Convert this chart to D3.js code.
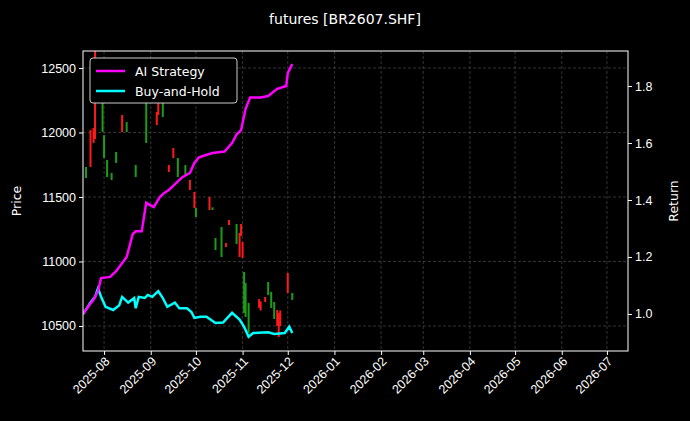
<!DOCTYPE html><html><head><meta charset="utf-8"><script src="https://cdn.jsdelivr.net/npm/d3@7"></script>
<style>body{margin:0;background:#000}svg{font-family:"DejaVu Sans",sans-serif}</style></head><body><svg id="c" width="690" height="421"></svg><script>
const title="futures [BR2607.SHF]";
const priceTicks=[10500,11000,11500,12000,12500];
const returnTicks=[1.0,1.2,1.4,1.6,1.8];
const monthTicks=["2025-08","2025-09","2025-10","2025-11","2025-12","2026-01","2026-02","2026-03","2026-04","2026-05","2026-06","2026-07"];
const candleDates=["2025-07-20","2025-07-23","2025-07-25","2025-07-26","2025-07-31","2025-08-01","2025-08-03","2025-08-06","2025-08-09","2025-08-13","2025-08-16","2025-08-22","2025-08-29","2025-09-05","2025-09-06","2025-09-09","2025-09-13","2025-09-16","2025-09-19","2025-09-24","2025-09-27","2025-09-30","2025-10-01","2025-10-10","2025-10-12","2025-10-14","2025-10-18","2025-10-21","2025-10-23","2025-10-28","2025-10-30","2025-10-31","2025-11-01","2025-11-02","2025-11-03","2025-11-05","2025-11-12","2025-11-13","2025-11-16","2025-11-18","2025-11-20","2025-11-22","2025-11-24","2025-11-25","2025-11-26","2025-12-01","2025-12-04"];
const candleHigh=[11733,12019,12035,12700,12252,11980,11787,11686,11849,12136,12081,11748,12252,12159,12229,12229,11748,11880,11802,11748,11632,11539,11415,11500,11420,11182,11267,11143,11322,11291,11221,11291,11151,10919,10834,10678,10709,10690,10725,10841,10764,10686,10624,10600,10620,10911,10756];
const candleLow=[11647,11733,11919,11950,12004,11802,11655,11632,11764,12004,12004,11655,11919,12058,12136,12120,11694,11802,11655,11671,11554,11415,11345,11399,11399,11089,11035,11112,11283,11136,11035,11198,11027,10601,10570,10446,10640,10620,10686,10740,10640,10554,10500,10415,10500,10756,10702];
const candleUp=[0,1,1,1,0,0,0,0,0,1,0,0,0,1,1,0,1,1,0,0,1,1,0,1,0,0,0,1,1,0,1,1,1,0,0,0,1,1,1,0,0,0,1,1,1,1,0];
const aiDates=["2025-07-18","2025-07-22","2025-07-25","2025-07-28","2025-07-30","2025-08-05","2025-08-09","2025-08-16","2025-08-20","2025-08-22","2025-08-26","2025-08-29","2025-09-03","2025-09-07","2025-09-10","2025-09-13","2025-09-18","2025-09-22","2025-09-27","2025-09-30","2025-10-03","2025-10-12","2025-10-20","2025-10-25","2025-10-28","2025-10-31","2025-11-03","2025-11-06","2025-11-13","2025-11-18","2025-11-24","2025-11-30","2025-12-01","2025-12-04"];
const aiValues=[1.0,1.03,1.05,1.08,1.126,1.13,1.15,1.20,1.28,1.29,1.29,1.39,1.375,1.41,1.425,1.435,1.46,1.48,1.495,1.53,1.55,1.565,1.57,1.60,1.63,1.645,1.72,1.76,1.76,1.765,1.79,1.80,1.845,1.877];
const bhDates=["2025-07-18","2025-07-23","2025-07-26","2025-07-28","2025-07-30","2025-08-02","2025-08-07","2025-08-11","2025-08-13","2025-08-17","2025-08-21","2025-08-22","2025-08-24","2025-08-28","2025-08-30","2025-09-02","2025-09-06","2025-09-09","2025-09-12","2025-09-17","2025-09-20","2025-09-25","2025-09-28","2025-09-30","2025-10-04","2025-10-08","2025-10-14","2025-10-19","2025-10-25","2025-10-30","2025-11-02","2025-11-05","2025-11-08","2025-11-18","2025-11-22","2025-11-29","2025-12-02","2025-12-04"];
const bhValues=[1.0,1.04,1.06,1.09,1.06,1.025,1.014,1.03,1.06,1.04,1.056,1.02,1.06,1.056,1.067,1.06,1.08,1.056,1.025,1.04,1.02,1.02,1.007,0.986,0.99,0.99,0.968,0.97,1.004,0.98,0.955,0.92,0.933,0.936,0.93,0.933,0.955,0.933];

const P=d3.timeParse("%Y-%m-%d"),M=d3.timeParse("%Y-%m");
const L=83,R=628,T=51,B=351;
const svg=d3.select("#c");
svg.append("rect").attr("width",690).attr("height",421).attr("fill","#000");
const x=d3.scaleTime().domain([P("2025-07-18"),P("2026-07-15")]).range([L,R]);
const yP=d3.scaleLinear().domain([10306,12632]).range([B,T]);
const yR=d3.scaleLinear().domain([0.870,1.923]).range([B,T]);
svg.append("defs").append("clipPath").attr("id","cp").append("rect").attr("x",L).attr("y",T).attr("width",R-L).attr("height",B-T);
const g=svg.append("g");
const mt=monthTicks.map(M);
g.selectAll(".vg").data(mt).join("line").attr("x1",d=>x(d)).attr("x2",d=>x(d)).attr("y1",T).attr("y2",B).attr("stroke","#555").attr("stroke-dasharray","3,2").attr("stroke-width",0.6);
g.selectAll(".hg").data(priceTicks).join("line").attr("x1",L).attr("x2",R).attr("y1",d=>yP(d)).attr("y2",d=>yP(d)).attr("stroke","#555").attr("stroke-dasharray","3,2").attr("stroke-width",0.6);
const cg=svg.append("g").attr("clip-path","url(#cp)");
candleDates.forEach((d,i)=>{
  const c=candleUp[i]?"#ff1a1a":"#1a9e1a";
  cg.append("rect").attr("x",x(P(d))-1).attr("width",2).attr("y",yP(candleHigh[i])).attr("height",yP(candleLow[i])-yP(candleHigh[i])).attr("fill",c);
});
const line=d3.line().x(d=>x(P(d[0]))).y(d=>yR(d[1]));
cg.append("path").datum(bhDates.map((d,i)=>[d,bhValues[i]])).attr("d",line).attr("fill","none").attr("stroke","#00ffff").attr("stroke-width",2.5);
cg.append("path").datum(aiDates.map((d,i)=>[d,aiValues[i]])).attr("d",line).attr("fill","none").attr("stroke","#ff00ff").attr("stroke-width",2.5);
svg.append("rect").attr("x",L).attr("y",T).attr("width",R-L).attr("height",B-T).attr("fill","none").attr("stroke","#fff").attr("stroke-width",1);
const ax=svg.append("g").attr("transform",`translate(0,${B})`).call(d3.axisBottom(x).tickValues(mt).tickFormat(d3.timeFormat("%Y-%m")).tickSize(4));
ax.selectAll("text").attr("fill","#fff").attr("font-size",12.5).attr("text-anchor","end").attr("dx","-0.3em").attr("dy","0.4em").attr("transform","rotate(-45)");
const al=svg.append("g").attr("transform",`translate(${L},0)`).call(d3.axisLeft(yP).tickValues(priceTicks).tickFormat(d3.format("d")).tickSize(4));
al.selectAll("text").attr("fill","#fff").attr("font-size",12.5);
const ar=svg.append("g").attr("transform",`translate(${R},0)`).call(d3.axisRight(yR).tickValues(returnTicks).tickFormat(d3.format(".1f")).tickSize(4));
ar.selectAll("text").attr("fill","#fff").attr("font-size",12.5);
[ax,al,ar].forEach(a=>{a.select(".domain").remove();a.selectAll("line").attr("stroke","#fff");});
svg.append("text").attr("x",345).attr("y",24).attr("text-anchor","middle").attr("fill","#fff").attr("font-size",14).text(title);
svg.append("text").attr("transform","translate(21,201) rotate(-90)").attr("text-anchor","middle").attr("fill","#fff").attr("font-size",12.5).text("Price");
svg.append("text").attr("transform","translate(678,201) rotate(-90)").attr("text-anchor","middle").attr("fill","#fff").attr("font-size",12.5).text("Return");
const lg=svg.append("g");
lg.append("rect").attr("x",90).attr("y",58).attr("width",147).attr("height",45).attr("rx",3).attr("fill","#000").attr("stroke","#ccc").attr("stroke-width",1);
[["AI Strategy","#ff00ff"],["Buy-and-Hold","#00ffff"]].forEach((e,i)=>{
  const yy=71+i*20;
  lg.append("line").attr("x1",96).attr("x2",125).attr("y1",yy).attr("y2",yy).attr("stroke",e[1]).attr("stroke-width",2.5);
  lg.append("text").attr("x",135).attr("y",yy+4.5).attr("fill","#fff").attr("font-size",12.5).text(e[0]);
});
</script></body></html>
